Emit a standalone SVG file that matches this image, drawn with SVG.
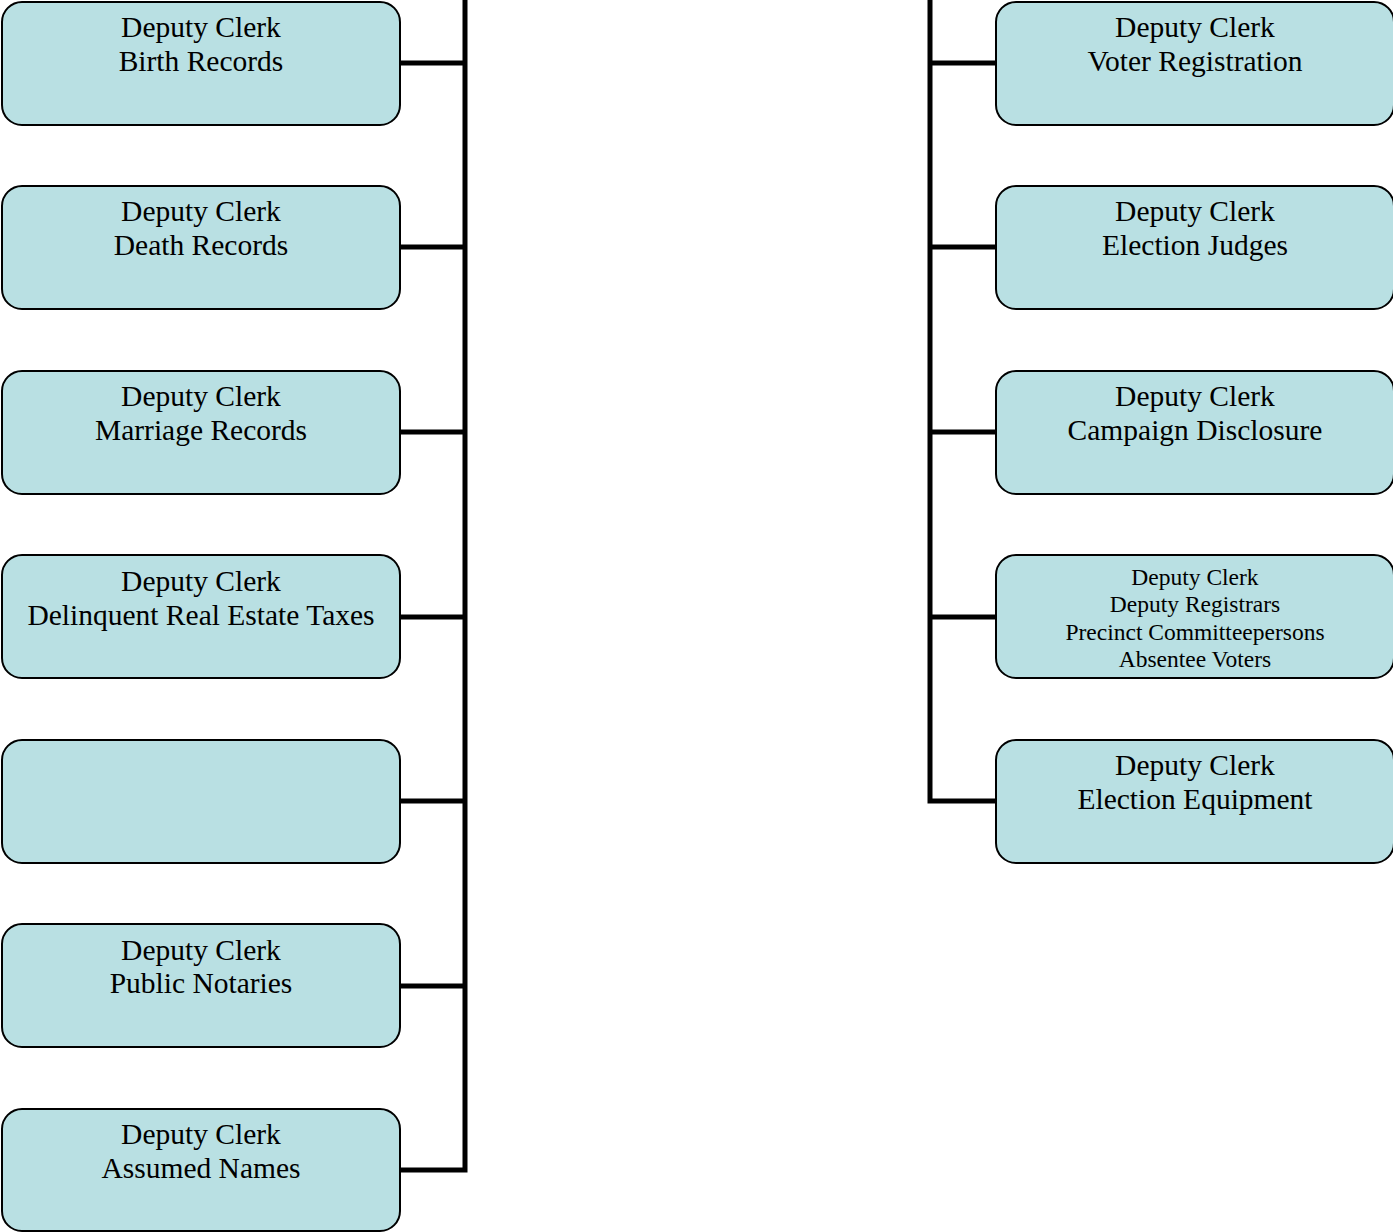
<svg xmlns="http://www.w3.org/2000/svg" width="1393" height="1232" viewBox="0 0 1393 1232">
<style>
.box{fill:#B9E0E3;stroke:#000;stroke-width:2}
.t{font-family:"Liberation Serif",serif;font-size:29.5px;fill:#000;text-anchor:middle}
.s{font-family:"Liberation Serif",serif;font-size:23.5px;fill:#000;text-anchor:middle}
.c{fill:none;stroke:#000;stroke-width:5}
</style>
<rect width="1393" height="1232" fill="#fff"/>
<g id="connectors">
<path class="c" d="M465,0 V1170 H400"/>
<path class="c" d="M400,63 H465 M400,247 H465 M400,432 H465 M400,617 H465 M400,801 H465 M400,986 H465"/>
<path class="c" d="M930,0 V801 H996"/>
<path class="c" d="M930,63 H996 M930,247 H996 M930,432 H996 M930,617 H996"/>
</g>
<g id="birth"><rect class="box" x="2" y="2" width="398" height="123" rx="20"/><text class="t" x="201" y="37">Deputy Clerk</text><text class="t" x="201" y="71">Birth Records</text></g>
<g id="death"><rect class="box" x="2" y="186" width="398" height="123" rx="20"/><text class="t" x="201" y="221">Deputy Clerk</text><text class="t" x="201" y="255">Death Records</text></g>
<g id="marriage"><rect class="box" x="2" y="371" width="398" height="123" rx="20"/><text class="t" x="201" y="406">Deputy Clerk</text><text class="t" x="201" y="440">Marriage Records</text></g>
<g id="delinquent"><rect class="box" x="2" y="555" width="398" height="123" rx="20"/><text class="t" x="201" y="591">Deputy Clerk</text><text class="t" x="201" y="625">Delinquent Real Estate Taxes</text></g>
<g id="blank"><rect class="box" x="2" y="740" width="398" height="123" rx="20"/></g>
<g id="notaries"><rect class="box" x="2" y="924" width="398" height="123" rx="20"/><text class="t" x="201" y="960">Deputy Clerk</text><text class="t" x="201" y="993">Public Notaries</text></g>
<g id="assumed"><rect class="box" x="2" y="1109" width="398" height="122" rx="20"/><text class="t" x="201" y="1144">Deputy Clerk</text><text class="t" x="201" y="1178">Assumed Names</text></g>
<g id="voter"><rect class="box" x="996" y="2" width="398" height="123" rx="20"/><text class="t" x="1195" y="37">Deputy Clerk</text><text class="t" x="1195" y="71">Voter Registration</text></g>
<g id="judges"><rect class="box" x="996" y="186" width="398" height="123" rx="20"/><text class="t" x="1195" y="221">Deputy Clerk</text><text class="t" x="1195" y="255">Election Judges</text></g>
<g id="campaign"><rect class="box" x="996" y="371" width="398" height="123" rx="20"/><text class="t" x="1195" y="406">Deputy Clerk</text><text class="t" x="1195" y="440">Campaign Disclosure</text></g>
<g id="registrars"><rect class="box" x="996" y="555" width="398" height="123" rx="20"/><text class="s" x="1195" y="585">Deputy Clerk</text><text class="s" x="1195" y="612">Deputy Registrars</text><text class="s" x="1195" y="640">Precinct Committeepersons</text><text class="s" x="1195" y="667">Absentee Voters</text></g>
<g id="equipment"><rect class="box" x="996" y="740" width="398" height="123" rx="20"/><text class="t" x="1195" y="775">Deputy Clerk</text><text class="t" x="1195" y="809">Election Equipment</text></g>
</svg>
